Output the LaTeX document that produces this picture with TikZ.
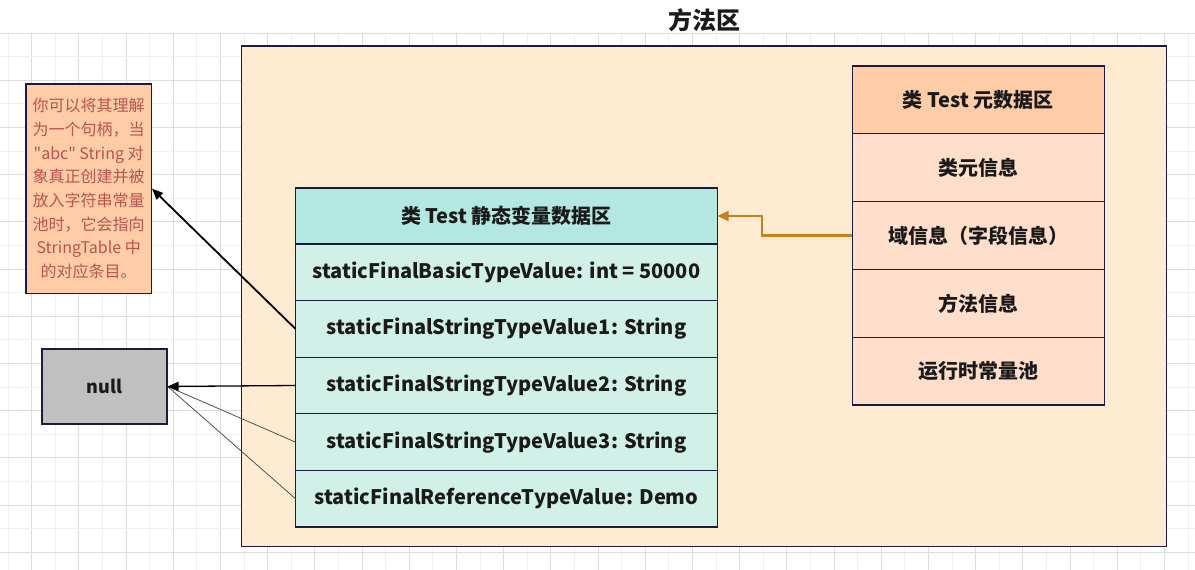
\documentclass[tikz,border=0pt]{standalone}
\usepackage{fontspec}
\setmainfont{Noto Sans CJK SC}
\newfontfamily\notefont{Noto Sans CJK SC}
\usetikzlibrary{arrows.meta,calc}
\definecolor{gridlight}{HTML}{EFEFEF}
\definecolor{griddark}{HTML}{DCDCDC}
\definecolor{edge}{HTML}{1B1B3F}
\definecolor{areafill}{HTML}{FFEBD2}
\definecolor{sthead}{HTML}{B3E8E0}
\definecolor{strow}{HTML}{D1F0E8}
\definecolor{mdhead}{HTML}{FFCCA8}
\definecolor{mdrow}{HTML}{FFDFCC}
\definecolor{notefill}{HTML}{FFCCA8}
\definecolor{notetext}{HTML}{B85450}
\definecolor{nullfill}{HTML}{C0C0C0}
\definecolor{orangearrow}{HTML}{C8801E}
\definecolor{txt}{HTML}{1A1A1A}
\begin{document}
\begin{tikzpicture}[x=1pt,y=-1pt,
  cell/.style={draw=edge,line width=1.3pt,inner sep=0pt,outer sep=0pt,anchor=north west,
    font=\fontsize{20}{24}\selectfont\bfseries,text=txt},
  strowbox/.style={cell,fill=strow,minimum width=422pt,minimum height=56.6pt},
  mdrowbox/.style={cell,fill=mdrow,minimum width=252pt,minimum height=67.8pt},
  ptr/.style={draw=black,line width=1.3pt,-{Triangle[length=11pt,width=9pt]}},
  thinptr/.style={draw=black!75,line width=0.7pt}
]
\useasboundingbox (0,0) rectangle (1195,570);
\fill[white] (0,0) rectangle (1195,570);
% grid
\foreach \i in {0,...,50}{
  \pgfmathsetmacro{\gx}{8.1+23.6*\i}
  \pgfmathtruncatemacro{\odd}{mod(\i,2)}
  \ifnum\odd=1
    \draw[griddark,line width=0.9pt] (\gx,33) -- (\gx,570);
  \else
    \draw[gridlight,line width=0.9pt] (\gx,33) -- (\gx,570);
  \fi
}
\foreach \j in {0,...,23}{
  \pgfmathsetmacro{\gy}{33+23.6*\j}
  \pgfmathtruncatemacro{\odd}{mod(\j,2)}
  \ifnum\odd=0
    \draw[griddark,line width=0.9pt] (0,\gy) -- (1195,\gy);
  \else
    \draw[gridlight,line width=0.9pt] (0,\gy) -- (1195,\gy);
  \fi
}
% title
\node[font=\fontsize{24}{28}\selectfont\bfseries,text=txt] (title) at (704,20) {方法区};
% method area
\node[draw=edge,line width=1.3pt,fill=areafill,anchor=north west,inner sep=0pt,
  minimum width=925pt,minimum height=500.5pt] (area) at (241,45.3) {};
% static variable area
\node[strowbox,fill=sthead,minimum height=56pt] (sthdr) at (295.5,188) {类 Test 静态变量数据区};
\node[strowbox] (s0) at (295.5,244) {staticFinalBasicTypeValue: int = 50000};
\node[strowbox] (s1) at (295.5,300.6) {staticFinalStringTypeValue1: String};
\node[strowbox] (s2) at (295.5,357.2) {staticFinalStringTypeValue2: String};
\node[strowbox] (s3) at (295.5,413.8) {staticFinalStringTypeValue3: String};
\node[strowbox] (s4) at (295.5,470.4) {staticFinalReferenceTypeValue: Demo};
% metadata area
\node[mdrowbox,fill=mdhead] (mdhdr) at (852.3,66) {类 Test 元数据区};
\node[mdrowbox] (m1) at (852.3,133.8) {类元信息};
\node[mdrowbox] (m2) at (852.3,201.6) {域信息（字段信息）};
\node[mdrowbox] (m3) at (852.3,269.4) {方法信息};
\node[mdrowbox] (m4) at (852.3,337.2) {运行时常量池};
% note
\node[draw=edge,line width=1.3pt,fill=notefill,anchor=north west,inner sep=0pt,
  minimum width=125.4pt,minimum height=209.4pt] (note) at (25.3,83.3) {};
\node[text=notetext,font=\notefont\fontsize{16}{23.7}\selectfont,align=center,inner sep=0pt] (notetxt) at (note.center)
  {你可以将其理解\\为一个句柄，当\\"abc" String 对\\象真正创建并被\\放入字符串常量\\池时，它会指向\\StringTable 中\\的对应条目。};
% null
\node[draw=edge,line width=1.3pt,fill=nullfill,anchor=north west,inner sep=0pt,
  minimum width=125pt,minimum height=75pt,font=\fontsize{18}{22}\selectfont\bfseries,text=txt] (null) at (41.3,348.3) {null};
% connectors
\draw[ptr,line width=1.8pt] (s1.west) -- (note.east);
\draw[thinptr] (s3.west) -- (null.east);
\draw[thinptr] (s4.west) -- (null.east);
\draw[ptr] (s2.west) -- (null.east);
\draw[draw=orangearrow,line width=2.3pt,-{Triangle[length=11pt,width=10pt]}]
  (m2.west) -- ([xshift=-90pt]m2.west) |- (sthdr.east);
\end{tikzpicture}
\end{document}
